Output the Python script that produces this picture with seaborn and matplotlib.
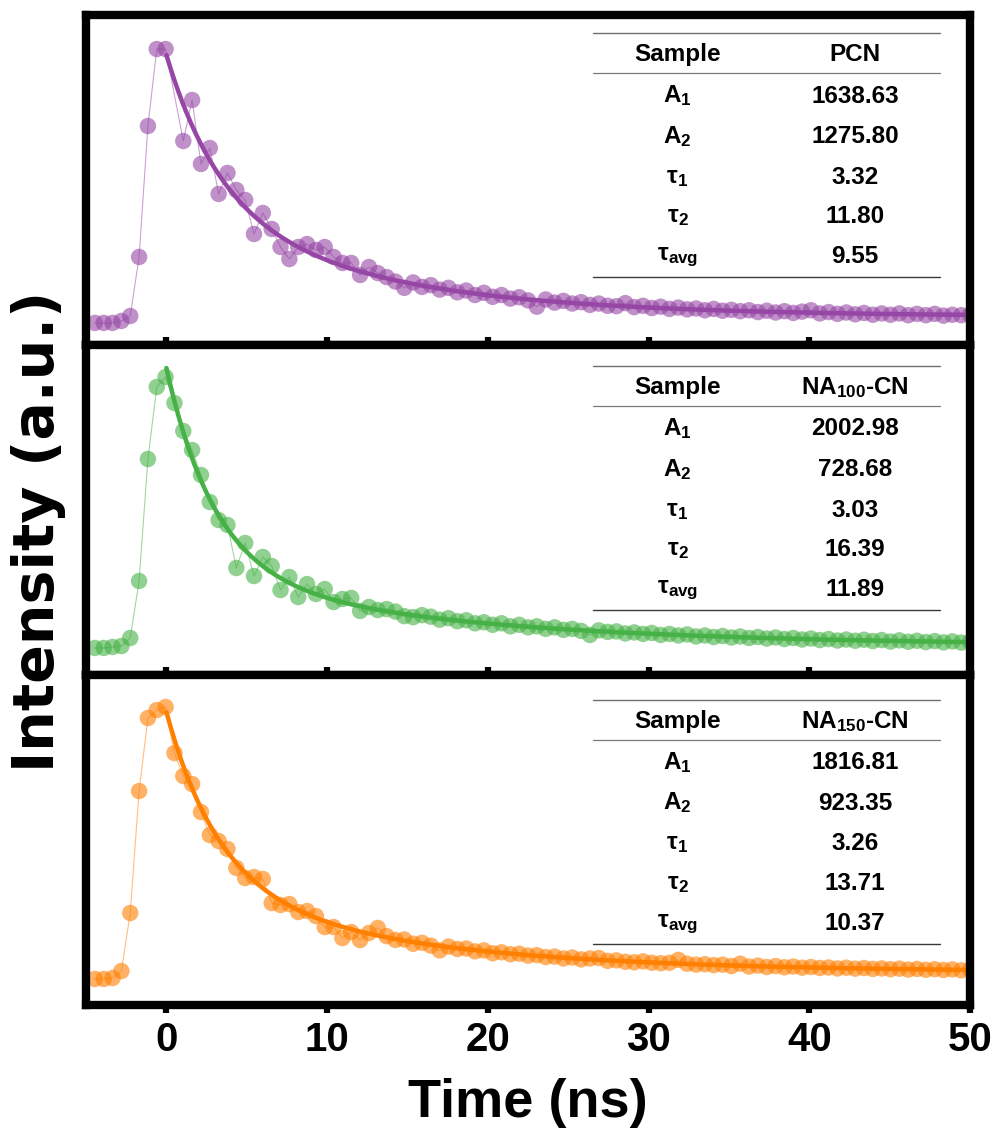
import numpy as np
import matplotlib
matplotlib.use("Agg")
import matplotlib.pyplot as plt
import seaborn as sns

# ---- data -------------------------------------------------------------
# TCSPC channels (ns)
time_ns = np.round(-4.45 + 0.55 * np.arange(100), 2)

pcn_counts = [
    9, 9, 9, 31, 86, 744, 2203, 3061, 3061, np.nan, 2036, 2493, 1780, 1958,
    1446, 1680, 1490, 1379, 1000, 1234, 1056, 855, 721, 855, 888, 822, 855,
    744, 677, 677, 543, 632, 565,
    520, 470, 400, 460, 410, 430, 380, 400, 350, 370, 320, 345, 300, 320, 280,
    295, 260, 190, 270, 235, 255, 225, 240, 210, 225, 200, 195, 230, 185, 200,
    175, 190, 165, 180, 160, 170, 150, 165, 145, 155, 140, 150, 130, 145, 125,
    140, 120, 135, 150, 115, 130, 110, 125, 105, 120, 100, 115, 100, 115, 95,
    110, 95, 110, 90, 100, 95, 100,
]
na100_counts = [
    37, 37, 47, 56, 135, 696, 1896, 2605, 2703, 2447, 2172, 1985, 1739, 1473,
    1296, 1247, 824, 1070, 745, 932, 843, 607, 735, 538, 666, 568, 617, 489,
    519, 529, 401, 440, 410,
    420, 395, 350, 340, 360, 345, 315, 330, 300, 310, 280, 290, 265, 280, 250,
    265, 240, 250, 225, 240, 215, 225, 205, 165, 210, 195, 200, 180, 190, 175,
    185, 165, 175, 160, 170, 150, 160, 145, 155, 140, 150, 135, 145, 130, 140,
    125, 135, 120, 130, 115, 125, 110, 120, 108, 118, 105, 115, 100, 112, 98,
    108, 95, 105, 92, 102, 90, 98,
]
na150_counts = [
    29, 29, 39, 113, 724, 2008, 2777, 2861, 2893, 2408, 2166, 2082, 1787, 1545,
    1482, 1398, 1198, 1092, 1103, 1082, 829, 808, 818, 734, 745, 692, 576, 576,
    460, 523, 439, 513, 566,
    480, 440, 445, 400, 410, 380, 330, 370, 345, 350, 320, 330, 300, 310, 290,
    295, 275, 280, 260, 265, 245, 255, 235, 245, 250, 220, 225, 210, 205, 215,
    200, 195, 200, 230, 190, 180, 185, 175, 180, 165, 190, 160, 170, 155, 165,
    152, 160, 148, 155, 145, 150, 140, 148, 138, 145, 135, 140, 132, 138, 128,
    135, 126, 132, 124, 130, 120, 126,
]

sample_names = ["PCN", "NA$_{100}$-CN", "NA$_{150}$-CN"]
amp1 = [1638.63, 2002.98, 1816.81]
amp2 = [1275.80, 728.68, 923.35]
tau1 = [3.32, 3.03, 3.26]
tau2 = [11.80, 16.39, 13.71]
tau_avg = [9.55, 11.89, 10.37]
fit_offset = [80, 60, 100]

series = [pcn_counts, na100_counts, na150_counts]
y_limits = [(-237, 3440), (-229, 3018), (-245, 3230)]
line_colors = ["#9646a5", "#46b146", "#ff7f00"]
table_shift = [0.0, 0.009, 0.021]

x_ticks = [0, 10, 20, 30, 40, 50]

# ---- style ------------------------------------------------------------
sns.set_theme(style="white")
plt.rcParams["font.family"] = ["Liberation Sans", "DejaVu Sans"]
plt.rcParams["font.weight"] = "bold"
plt.rcParams["text.color"] = "black"
plt.rcParams["axes.labelcolor"] = "black"
plt.rcParams["xtick.color"] = "black"
plt.rcParams["xtick.labelcolor"] = "black"
plt.rcParams["mathtext.fontset"] = "custom"
plt.rcParams["mathtext.rm"] = "Liberation Sans:bold"
plt.rcParams["mathtext.it"] = "Liberation Sans:bold"
plt.rcParams["mathtext.bf"] = "Liberation Sans:bold"

fig = plt.figure(figsize=(9.97, 11.31), dpi=100)
gs = fig.add_gridspec(3, 1, left=0.0863, right=0.973,
                      top=1 - 15 / 1131, bottom=1 - 1005 / 1131, hspace=0)
axes = [fig.add_subplot(gs[i]) for i in range(3)]

t_fit = np.linspace(0, 50, 600)


def draw_table(ax, k):
    dy = table_shift[k]
    x0, x1 = 0.5735, 0.966
    cx = [0.669, 0.870]
    fs = 17.5
    ax.plot([x0, x1], [0.9455 - dy] * 2, transform=ax.transAxes,
            color="#6e6e6e", lw=1.0, clip_on=False)
    ax.plot([x0, x1], [0.824 - dy] * 2, transform=ax.transAxes,
            color="#7a7a7a", lw=0.9, clip_on=False)
    ax.plot([x0, x1], [0.206 - dy] * 2, transform=ax.transAxes,
            color="#3a3a3a", lw=1.0, clip_on=False)
    rows = [
        ("Sample", sample_names[k], 0.879),
        ("A$_1$", f"{amp1[k]:.2f}", 0.7545),
        ("A$_2$", f"{amp2[k]:.2f}", 0.633),
        ("τ$_1$", f"{tau1[k]:.2f}", 0.509),
        ("τ$_2$", f"{tau2[k]:.2f}", 0.388),
        ("τ$_{avg}$", f"{tau_avg[k]:.2f}", 0.267),
    ]
    for left, right, y in rows:
        ax.text(cx[0], y - dy, left, transform=ax.transAxes, ha="center",
                va="center", fontsize=fs, fontweight="bold", color="black")
        ax.text(cx[1], y - dy, right, transform=ax.transAxes, ha="center",
                va="center", fontsize=fs, fontweight="bold", color="black")


for k, ax in enumerate(axes):
    col = line_colors[k]
    counts = np.asarray(series[k], dtype=float)
    # thin line joining the measured points
    sns.lineplot(x=time_ns, y=counts, ax=ax, color=col, lw=0.8, alpha=0.5,
                 zorder=2, estimator=None, sort=False)
    sns.scatterplot(x=time_ns, y=counts, ax=ax, color=col, s=140, alpha=0.6,
                    edgecolor="none", linewidth=0, zorder=3)
    # bi-exponential fit from the tabulated parameters
    fit = (amp1[k] * np.exp(-t_fit / tau1[k])
           + amp2[k] * np.exp(-t_fit / tau2[k]) + fit_offset[k])
    sns.lineplot(x=t_fit, y=fit, ax=ax, color=col, lw=3.2, zorder=4,
                 estimator=None, sort=False)

    ax.set_xlim(-5, 50)
    ax.set_ylim(*y_limits[k])
    ax.set_yticks([])
    ax.set_xticks(x_ticks)
    ax.set_xticks([5, 15, 25, 35, 45], minor=True)
    ax.set_xlabel("")
    ax.set_ylabel("")
    for sp in ax.spines.values():
        sp.set_visible(True)
        sp.set_color("black")
        sp.set_linewidth(6)
        sp.set_zorder(6)

    last = k == 2
    ax.tick_params(axis="x", which="major", direction="out" if last else "in",
                   length=5.5, width=4.5, color="black", bottom=True,
                   top=False, labelbottom=last, labelsize=29, pad=6,
                   labelcolor="black")
    ax.tick_params(axis="x", which="minor", direction="out" if last else "in",
                   length=2.0, width=3.0, color="black", bottom=True, top=False)
    if last:
        for lab in ax.get_xticklabels():
            lab.set_fontweight("bold")
        ax.set_xlabel("Time (ns)", fontsize=39, fontweight="bold",
                      labelpad=14, color="black")

    draw_table(ax, k)

fig.text(0.039, 0.530, "Intensity (a.u.)", rotation=90, ha="center",
         va="center", fontsize=41, fontweight="bold", color="black",
         family=["DejaVu Sans"])

fig.savefig("out.png", dpi=100)
